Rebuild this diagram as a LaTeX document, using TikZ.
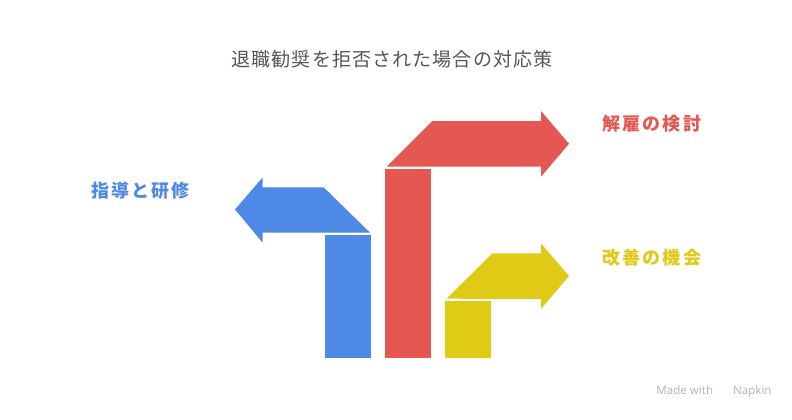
\documentclass[tikz,border=0pt]{standalone}
\usepackage{fontspec}
\newfontfamily\jpfont[LetterSpace=6]{Noto Sans CJK JP}
\newfontfamily\jpwide[LetterSpace=12]{Noto Sans CJK JP}
\definecolor{blueA}{RGB}{78,137,230}
\definecolor{redA}{RGB}{228,87,82}
\definecolor{yellowA}{RGB}{223,202,22}
\definecolor{titleA}{RGB}{85,85,85}
\tikzset{
  label/.style={font=\jpwide\bfseries\fontsize{18}{20}\selectfont, inner sep=0pt},
}
\begin{document}
\begin{tikzpicture}[x=1pt, y=-1pt]
\useasboundingbox[fill=white] (0,0) rectangle (792,420);
% title
\node[font=\jpfont\fontsize{19}{22}\selectfont, text=titleA, inner sep=0pt] (title) at (392,59) {退職勧奨を拒否された場合の対応策};
% blue: left turn
\fill[blueA] (325,235) rectangle (371,358);
\fill[blueA] (370,232.7) -- (323.7,187.3) -- (262.7,187.3) -- (262.7,177.3) -- (235,209.5) -- (262.7,242.7) -- (262.7,232.7) -- cycle;
% red and yellow: right turns
\foreach \c/\xl/\yt/\yb in {redA/385/121/169, yellowA/445/253.3/301}{
\fill[\c] (\xl,\yb) rectangle (\xl+46,358);
\fill[\c] (\xl+1.7,\yb-2.3) -- (\xl+47.3,\yt) -- (541,\yt) -- (541,\yt-10) -- (569,\yt+22.8) -- (541,\yt+55.7) -- (541,\yt+45.7) -- cycle;
}
\node[label, text=blueA] (train) at (140.5,190.5) {指導と研修};
\node[label, text=redA] (dismiss) at (651.7,124) {解雇の検討};
\node[label, text=yellowA] (improve) at (651.7,258) {改善の機会};
% watermark
\node[font=\fontspec{Noto Sans}\fontsize{11.5}{13}\selectfont, text=black!28, inner sep=0pt] (made) at (714,392) {Made with \hspace{14pt} Napkin};
\end{tikzpicture}
\end{document}
